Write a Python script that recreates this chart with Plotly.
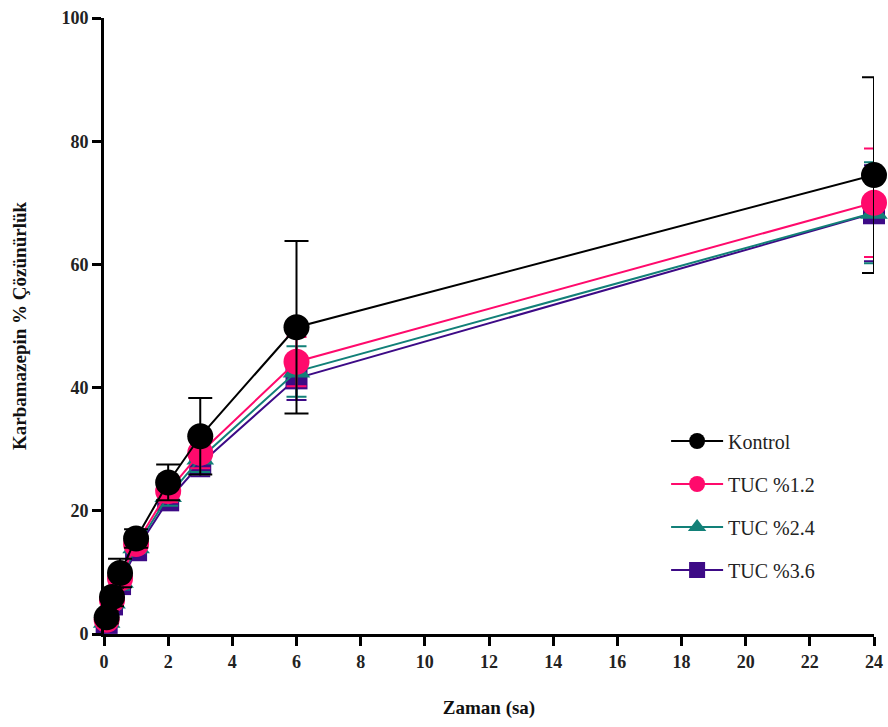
import plotly.graph_objects as go

times = [0.083, 0.25, 0.5, 1, 2, 3, 6, 24]

kontrol = [2.7, 6.0, 9.9, 15.5, 24.6, 32.1, 49.8, 74.5]
kontrol_sd = [1.0, 1.5, 2.3, 1.5, 2.9, 6.2, 14.0, 15.9]

tuc12 = [2.3, 5.5, 9.0, 14.6, 23.2, 29.4, 44.2, 70.0]
tuc12_sd = [0.8, 1.2, 1.5, 1.2, 1.8, 2.5, 4.0, 8.8]

tuc24 = [2.0, 5.1, 8.5, 14.1, 22.4, 28.5, 42.6, 68.4]
tuc24_sd = [0.7, 1.0, 1.3, 1.0, 1.6, 2.2, 4.1, 8.2]

tuc36 = [1.8, 4.8, 8.1, 13.6, 21.7, 27.6, 41.5, 68.3]
tuc36_sd = [0.7, 1.0, 1.2, 1.0, 1.5, 2.0, 3.5, 7.8]

names = ["Kontrol", "TUC %1.2", "TUC %2.4", "TUC %3.6"]
colors = ["#000000", "#FF0A6C", "#128078", "#3D0A86"]
symbols = ["circle", "circle", "triangle-up", "square"]
sizes = [26, 26, 24, 22]

series = [(kontrol, kontrol_sd), (tuc12, tuc12_sd), (tuc24, tuc24_sd), (tuc36, tuc36_sd)]

fig = go.Figure()
# draw in reverse so Kontrol is on top
for i in [3, 2, 1, 0]:
    y, sd = series[i]
    fig.add_trace(go.Scatter(
        x=times, y=y, name=names[i], mode="lines+markers",
        legendgroup=names[i], legendrank=i + 1,
        line=dict(color=colors[i], width=2),
        marker=dict(symbol=symbols[i], size=sizes[i], color=colors[i], line=dict(width=0)),
        error_y=dict(type="data", array=sd, visible=True, color=colors[i],
                     thickness=2, width=12 if i == 0 else 10),
        cliponaxis=False,
    ))

font_family = "Liberation Serif"
fig.update_layout(
    width=888, height=727,
    margin=dict(l=104, r=14, t=18, b=93, autoexpand=False),
    plot_bgcolor="white", paper_bgcolor="white",
    showlegend=True,
    legend=dict(x=0.730, y=0.345, xanchor="left", yanchor="top",
                traceorder="grouped", font=dict(family=font_family, size=20, color="#222"),
                bgcolor="rgba(0,0,0,0)", itemwidth=52, tracegroupgap=14),
    font=dict(family=font_family),
)
fig.update_xaxes(
    range=[0, 24], tickvals=list(range(0, 25, 2)), showgrid=False, zeroline=False,
    showline=True, linecolor="black", linewidth=3, automargin=False,
    ticks="outside", ticklen=9, tickwidth=3, tickcolor="black",
    tickfont=dict(family=font_family, size=18, color="#222", weight="bold"),
    title=dict(text="Zaman (sa)", font=dict(family=font_family, size=19, color="#111", weight="bold"), standoff=31),
)
fig.update_yaxes(
    range=[0, 100], tickvals=list(range(0, 101, 20)), showgrid=False, zeroline=False,
    showline=True, linecolor="black", linewidth=3, automargin=False,
    ticks="outside", ticklen=9, tickwidth=3, tickcolor="black",
    tickfont=dict(family=font_family, size=18, color="#222", weight="bold"),
    title=dict(text="Karbamazepin % Çözünürlük", font=dict(family=font_family, size=19, color="#111", weight="bold"), standoff=30),
)

fig.write_html("out.html", config={"displayModeBar": False},
               post_script="document.body.style.margin='0';document.body.style.overflow='hidden';")
